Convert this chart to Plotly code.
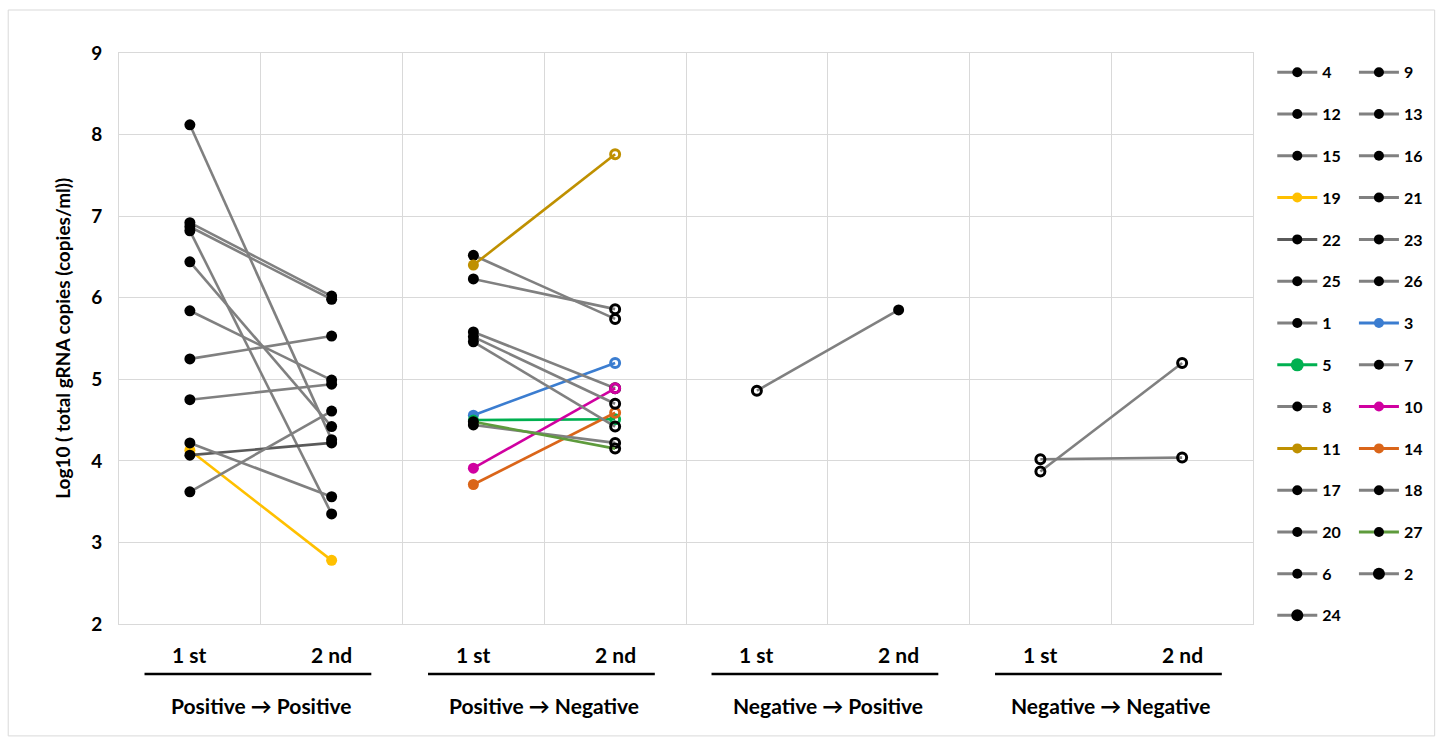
import plotly.graph_objects as go

# ---------------- data ----------------
series_names = ["4", "9", "12", "13", "15", "16", "19", "21", "22", "23", "25", "26",
                "1", "3", "5", "7", "8", "10", "11", "14", "17", "18", "20", "27",
                "6", "2", "24"]
series_group = [0] * 12 + [1] * 12 + [2] + [3, 3]
first_values = [8.12, 6.92, 6.87, 6.82, 6.44, 5.84, 4.13, 5.25, 4.07, 4.75, 4.22, 3.62,
                6.52, 4.56, 4.50, 6.23, 5.58, 3.91, 6.40, 3.71, 5.52, 5.46, 4.44, 4.48,
                4.86, 4.02, 3.87]
second_values = [4.26, 6.02, 5.98, 3.35, 4.42, 4.99, 2.78, 5.53, 4.22, 4.94, 3.56, 4.61,
                 5.74, 5.20, 4.51, 5.86, 4.89, 4.89, 7.76, 4.59, 4.70, 4.42, 4.22, 4.15,
                 5.85, 4.04, 5.20]
visit_labels = ["1 st", "2 nd"]
group_labels = ["Positive \u2192 Positive", "Positive \u2192 Negative",
                "Negative \u2192 Positive", "Negative \u2192 Negative"]
# whether a sample was positive (filled marker) or negative (open marker)
group_first_positive = [True, True, False, False]
group_second_positive = [True, False, True, False]

# ---------------- styles ----------------
GRAY = "#808080"
special_colors = {"19": "#FFC000", "22": "#5A5A5A", "3": "#3B7DD0", "5": "#00B050",
                  "10": "#D000A0", "11": "#BF9000", "14": "#DA6519", "27": "#5E9B3C"}
marker_special = {"19": "#FFC000", "3": "#3B7DD0", "5": "#00B050", "10": "#D000A0",
                  "11": "#BF9000", "14": "#DA6519"}
legend_marker_size = {"5": 13, "2": 12, "24": 12}
FONT = "Lato, 'Open Sans', sans-serif"

col1 = series_names[0::2]
col2 = series_names[1::2]

fig = go.Figure()

for i, name in enumerate(series_names):
    g = series_group[i]
    line_color = special_colors.get(name, GRAY)
    mcol = marker_special.get(name, "black")
    pos = [group_first_positive[g], group_second_positive[g]]
    fig.add_trace(go.Scatter(
        x=[g * 2 + 0.5, g * 2 + 1.5],
        y=[first_values[i], second_values[i]],
        mode="lines+markers",
        line=dict(color=line_color, width=2.6),
        marker=dict(
            symbol=["circle" if p else "circle-open" for p in pos],
            size=[11 if p else 9 for p in pos],
            color=mcol, opacity=1,
            line=dict(width=[0 if p else 3 for p in pos], color=mcol),
        ),
        showlegend=False,
        hoverinfo="skip",
    ))

# legend entries (two columns, last entry in its own legend box)
for name in series_names:
    line_color = special_colors.get(name, GRAY)
    mcol = marker_special.get(name, "black")
    if name == "24":
        lg = "legend3"
    elif name in col1:
        lg = "legend"
    else:
        lg = "legend2"
    fig.add_trace(go.Scatter(
        x=[None], y=[None], mode="lines+markers", name=name,
        line=dict(color=line_color, width=3),
        marker=dict(symbol="circle", size=legend_marker_size.get(name, 10), color=mcol,
                    opacity=1),
        legend=lg, legendgroup=name,
    ))

# x-axis labels
annotations = []
for g in range(4):
    for k, lab in enumerate(visit_labels):
        annotations.append(dict(x=g * 2 + 0.5 + k, y=-0.054, xref="x", yref="paper",
                                yanchor="middle", xanchor="center",
                                text=f"<b>{lab}</b>", showarrow=False,
                                font=dict(size=21, color="black", family=FONT)))
    annotations.append(dict(x=g * 2 + 1.0, y=-0.142, xref="x", yref="paper",
                            yanchor="middle", xanchor="center",
                            text=f"<b>{group_labels[g]}</b>", showarrow=False,
                            font=dict(size=21, color="black", family=FONT)))
annotations.append(dict(x=-0.050, y=0.50, xref="paper", yref="paper",
                        xanchor="center", yanchor="middle",
                        text="<b>Log10 ( total gRNA copies (copies/ml))</b>",
                        textangle=-90, showarrow=False,
                        font=dict(size=19, color="black", family=FONT)))

shapes = []
for g in range(4):
    shapes.append(dict(type="line", xref="x", yref="paper",
                       x0=g * 2 + 0.18, x1=g * 2 + 1.78, y0=-0.0876, y1=-0.0876,
                       line=dict(color="black", width=2.5)))
shapes.append(dict(type="rect", xref="paper", yref="paper",
                   x0=-0.0977, x1=1.1602, y0=-0.196, y1=1.0753,
                   line=dict(color="#D9D9D9", width=1)))

legend_font = dict(size=16, color="black", family=FONT, weight="bold")
fig.update_layout(
    width=1440, height=744,
    margin=dict(l=119, r=185, t=53, b=120),
    paper_bgcolor="white", plot_bgcolor="white",
    font=dict(family=FONT, color="black"),
    xaxis=dict(range=[0, 8], tickmode="linear", tick0=0, dtick=1,
               showticklabels=False, showgrid=True, gridcolor="#D9D9D9", gridwidth=1,
               zeroline=False, showline=True, linecolor="#D9D9D9", mirror=True, ticks=""),
    yaxis=dict(range=[2, 9], tickmode="linear", tick0=2, dtick=1,
               showgrid=True, gridcolor="#D9D9D9", gridwidth=1, zeroline=False,
               showline=True, linecolor="#D9D9D9", mirror=True, ticks="",
               ticklabelstandoff=12,
               tickfont=dict(size=19, color="black", family=FONT, weight="bold")),
    legend=dict(x=1.017, y=0.996, xanchor="left", yanchor="top",
                font=legend_font, tracegroupgap=18, bgcolor="rgba(0,0,0,0)", itemwidth=40),
    legend2=dict(x=1.089, y=0.996, xanchor="left", yanchor="top",
                 font=legend_font, tracegroupgap=18, bgcolor="rgba(0,0,0,0)", itemwidth=40),
    legend3=dict(x=1.017, y=0.045, xanchor="left", yanchor="top",
                 font=legend_font, bgcolor="rgba(0,0,0,0)", itemwidth=40),
    annotations=annotations,
    shapes=shapes,
    showlegend=True,
)

fig.write_html("out.html", config={"displayModeBar": False},
               post_script="document.body.style.margin='0';")
